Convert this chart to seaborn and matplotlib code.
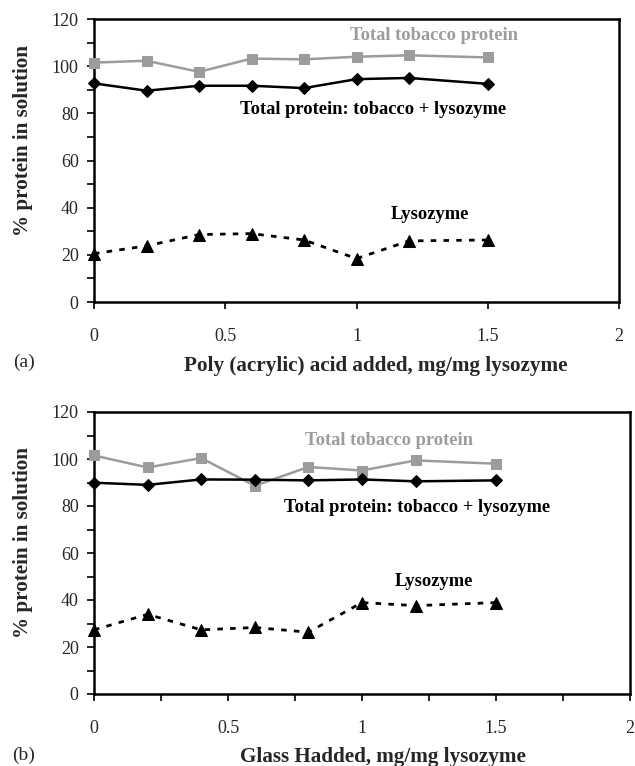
import matplotlib
matplotlib.use("Agg")
import matplotlib.pyplot as plt
import seaborn as sns
import numpy as np
from matplotlib.ticker import MultipleLocator

sns.set_style("white")
plt.rcParams['font.family'] = ['Liberation Serif', 'DejaVu Serif']

# ---- data ----
x_vals = [0, 0.2, 0.4, 0.6, 0.8, 1.0, 1.2, 1.5]

# (a) Poly(acrylic) acid
a_tobacco = [101.5, 102.3, 97.6, 103.2, 102.9, 104.0, 104.6, 103.7]
a_total = [92.7, 89.6, 91.7, 91.7, 90.7, 94.5, 95.0, 92.5]
a_lysozyme = [20.5, 23.8, 28.6, 29.0, 26.3, 18.4, 25.9, 26.3]

# (b) Glass H
b_tobacco = [101.5, 96.4, 100.4, 88.6, 96.6, 95.1, 99.4, 98.0]
b_total = [89.9, 89.0, 91.3, 91.2, 90.9, 91.3, 90.5, 90.9]
b_lysozyme = [27.3, 33.9, 27.3, 28.3, 26.3, 38.9, 37.6, 38.9]

y_ticks = [0, 20, 40, 60, 80, 100, 120]
x_ticks = [0, 0.5, 1, 1.5, 2]
x_ticklabels = ["0", "0.5", "1", "1.5", "2"]

label_tobacco = "Total tobacco protein"
label_total = "Total protein: tobacco + lysozyme"
label_lys = "Lysozyme"
ylabel = "% protein in solution"
xlabel_a = "Poly (acrylic) acid added, mg/mg lysozyme"
xlabel_b = "Glass Hadded, mg/mg lysozyme"

W, H = 635, 766
fig = plt.figure(figsize=(W / 100, H / 100), dpi=100)

def fx(px):
    return px / W

def fy(py):
    return 1 - py / H

ax_a = fig.add_axes([fx(94), fy(302), fx(619) - fx(94), fy(19) - fy(302)])
ax_b = fig.add_axes([fx(94), fy(694), fx(630) - fx(94), fy(412) - fy(694)])

gray = "#9c9c9c"

def draw(ax, tob, tot, lys, minor_x):
    sns.lineplot(x=x_vals, y=tob, ax=ax, color=gray, linewidth=1.8,
                 marker="s", markersize=7, markeredgecolor=gray,
                 markerfacecolor=gray, zorder=3, clip_on=False)
    sns.lineplot(x=x_vals, y=tot, ax=ax, color="black", linewidth=1.8,
                 marker="D", markersize=6, markeredgecolor="black",
                 markerfacecolor="black", zorder=4, clip_on=False)
    sns.lineplot(x=x_vals, y=lys, ax=ax, color="black", linewidth=2.0,
                 linestyle=(0, (2, 2.6)),
                 marker="^", markersize=8, markeredgecolor="black",
                 markerfacecolor="black", zorder=4, clip_on=False)
    ax.set_xlim(0, 2)
    ax.set_ylim(0, 120)
    ax.set_yticks(y_ticks)
    ax.set_xticks(x_ticks)
    ax.set_xticklabels(x_ticklabels)
    ax.yaxis.set_minor_locator(MultipleLocator(10))
    if minor_x:
        ax.xaxis.set_minor_locator(MultipleLocator(0.25))
    ax.tick_params(axis="both", which="both", direction="out", length=5,
                   width=1.2, color="black", labelsize=13)
    ax.tick_params(axis="y", which="both", left=True, pad=6)
    ax.tick_params(axis="x", which="both", bottom=True, pad=14)
    for s in ax.spines.values():
        s.set_visible(True)
        s.set_color("black")
        s.set_linewidth(1.8)
    ax.set_xlabel("")
    ax.set_ylabel("")
    ax.grid(False)

draw(ax_a, a_tobacco, a_total, a_lysozyme, False)
draw(ax_b, b_tobacco, b_total, b_lysozyme, True)

ann_fs = 13.3
# annotations (a)
ax_a.text(1.295, 112.8, label_tobacco, color=gray, fontsize=ann_fs,
          fontweight="bold", ha="center", va="center")
ax_a.text(1.065, 81.8, label_total, color="black", fontsize=ann_fs,
          fontweight="bold", ha="center", va="center")
ax_a.text(1.28, 36.9, label_lys, color="black", fontsize=ann_fs,
          fontweight="bold", ha="center", va="center")
# annotations (b)
ax_b.text(1.099, 107.7, label_tobacco, color=gray, fontsize=ann_fs,
          fontweight="bold", ha="center", va="center")
ax_b.text(1.205, 79.3, label_total, color="black", fontsize=ann_fs,
          fontweight="bold", ha="center", va="center")
ax_b.text(1.269, 47.7, label_lys, color="black", fontsize=ann_fs,
          fontweight="bold", ha="center", va="center")

# axis labels
fig.text(fx(376), fy(366), xlabel_a, fontsize=15.2, fontweight="bold",
         ha="center", va="center")
fig.text(fx(383), fy(757), xlabel_b, fontsize=15.2, fontweight="bold",
         ha="center", va="center")
fig.text(fx(23), fy(140), ylabel, fontsize=15.2, fontweight="bold",
         ha="center", va="center", rotation=90)
fig.text(fx(23), fy(543), ylabel, fontsize=15.2, fontweight="bold",
         ha="center", va="center", rotation=90)

fig.text(fx(24), fy(362), "(a)", fontsize=14, ha="center", va="center")
fig.text(fx(24), fy(755), "(b)", fontsize=14, ha="center", va="center")

fig.savefig("out.png", dpi=100, facecolor="white")
